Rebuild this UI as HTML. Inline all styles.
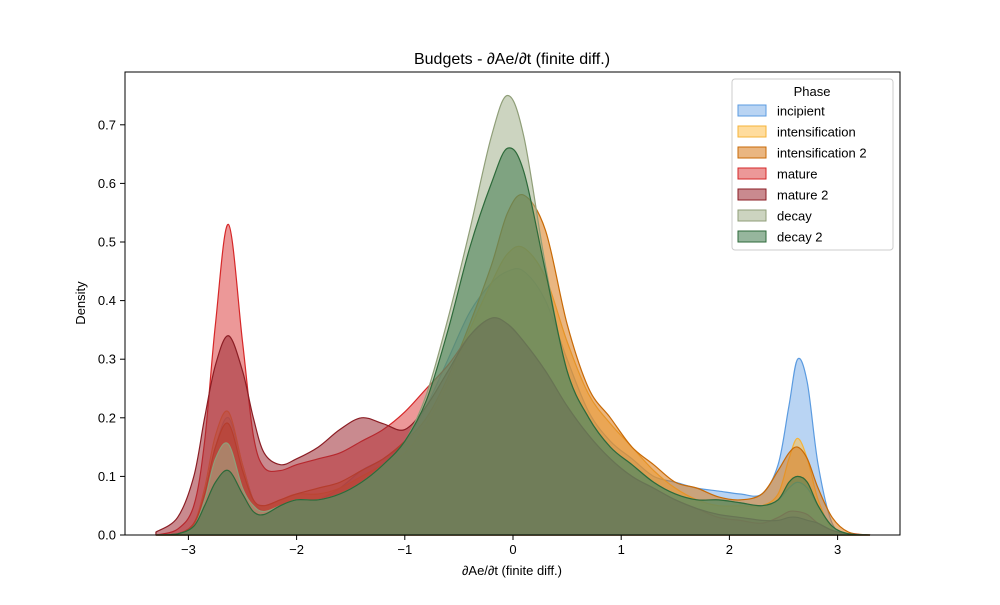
<!DOCTYPE html>
<html><head><meta charset="utf-8"><style>
body{margin:0;background:#fff;}
svg text{font-family:"Liberation Sans","DejaVu Sans",sans-serif;}
</style></head><body>
<svg id="chart" width="1000" height="600" viewBox="0 0 1000 600">
<rect width="1000" height="600" fill="#fff"/>
<text x="512" y="64" font-size="16" text-anchor="middle">Budgets - ∂Ae/∂t (finite diff.)</text>
<g id="series"></g>
<rect x="125" y="72" width="775" height="463" fill="none" stroke="#000" stroke-width="1"/>
<g id="xticks"></g>
<g id="yticks"></g>
<text x="512" y="575" font-size="13" text-anchor="middle">∂Ae/∂t (finite diff.)</text>
<text x="85" y="303" font-size="13" text-anchor="middle" transform="rotate(-90 85 303)">Density</text>
<g id="legend">
<rect x="732" y="79" width="161" height="171" rx="3" fill="#fff" fill-opacity="0.8" stroke="#ccc"/>
<text x="812" y="96" font-size="13" text-anchor="middle">Phase</text>
</g>
</svg>
<script>
const xs=[-3.3,-3.1,-2.95,-2.85,-2.75,-2.63,-2.5,-2.4,-2.3,-2.15,-2,-1.8,-1.6,-1.4,-1.2,-1,-0.8,-0.6,-0.4,-0.2,-0.05,0.1,0.3,0.5,0.7,0.9,1.1,1.3,1.5,1.7,1.9,2.1,2.3,2.45,2.55,2.63,2.72,2.82,2.95,3.1,3.3];
const seriesNames=["incipient","intensification","intensification 2","mature","mature 2","decay","decay 2"];
const incipient=[0,0.002,0.02,0.07,0.15,0.2,0.12,0.06,0.04,0.04,0.05,0.06,0.08,0.11,0.13,0.16,0.22,0.3,0.38,0.43,0.45,0.45,0.4,0.3,0.21,0.16,0.13,0.1,0.09,0.08,0.075,0.07,0.07,0.12,0.22,0.3,0.26,0.12,0.02,0.002,0];
const intensification=[0,0.002,0.02,0.08,0.17,0.21,0.12,0.06,0.05,0.06,0.07,0.07,0.08,0.1,0.12,0.14,0.19,0.26,0.35,0.43,0.48,0.49,0.44,0.33,0.24,0.19,0.15,0.11,0.08,0.06,0.05,0.05,0.05,0.07,0.13,0.165,0.13,0.06,0.01,0.001,0];
const intensification2=[0,0.002,0.02,0.07,0.15,0.19,0.11,0.06,0.05,0.06,0.07,0.08,0.09,0.11,0.13,0.16,0.2,0.27,0.36,0.46,0.55,0.58,0.52,0.36,0.25,0.2,0.15,0.12,0.09,0.08,0.065,0.06,0.07,0.11,0.14,0.15,0.13,0.08,0.03,0.005,0];
const mature=[0,0.01,0.05,0.16,0.36,0.53,0.33,0.17,0.115,0.11,0.12,0.13,0.14,0.16,0.18,0.21,0.25,0.29,0.34,0.37,0.36,0.33,0.28,0.22,0.17,0.13,0.1,0.08,0.06,0.045,0.03,0.025,0.02,0.03,0.04,0.04,0.035,0.02,0.008,0.002,0];
const mature2=[0.005,0.03,0.1,0.2,0.29,0.34,0.28,0.2,0.14,0.12,0.13,0.15,0.18,0.2,0.19,0.18,0.22,0.28,0.34,0.37,0.36,0.33,0.28,0.22,0.17,0.13,0.1,0.08,0.06,0.045,0.035,0.03,0.025,0.025,0.03,0.03,0.025,0.02,0.008,0.002,0];
const decay=[0,0.002,0.015,0.06,0.13,0.155,0.08,0.05,0.04,0.05,0.06,0.06,0.07,0.09,0.12,0.16,0.24,0.37,0.52,0.68,0.75,0.68,0.46,0.28,0.2,0.15,0.12,0.09,0.07,0.06,0.06,0.055,0.05,0.06,0.08,0.09,0.08,0.05,0.015,0.002,0];
const decay2=[0,0.002,0.015,0.05,0.09,0.11,0.07,0.04,0.035,0.05,0.06,0.06,0.07,0.09,0.12,0.16,0.23,0.35,0.49,0.6,0.66,0.62,0.45,0.28,0.2,0.15,0.12,0.09,0.07,0.06,0.06,0.055,0.05,0.06,0.09,0.1,0.09,0.05,0.015,0.002,0];
const xTicks=[-3,-2,-1,0,1,2,3];
const yTicks=[0,0.1,0.2,0.3,0.4,0.5,0.6,0.7];

const allSeries=[incipient,intensification,intensification2,mature,mature2,decay,decay2];
const fills=["#7fb0ea","#ffc04c","#d97a1a","#dd4444","#9c2a33","#a3b08c","#3f7a4c"];
const strokes=["#5b9be0","#f5b339","#c86a06","#d62728","#8b1d24","#8f9e78","#2d6a3a"];
const NS="http://www.w3.org/2000/svg";
const X=v=>513+108.2*v, Y=v=>535-586*v;
function pathFor(arr){
  const p=xs.map((x,i)=>[X(x),Y(arr[i])]);
  let d="M"+p[0][0]+","+535+"L"+p[0][0]+","+p[0][1];
  for(let i=0;i<p.length-1;i++){
    const p0=p[Math.max(0,i-1)],p1=p[i],p2=p[i+1],p3=p[Math.min(p.length-1,i+2)];
    const c1x=p1[0]+(p2[0]-p0[0])/6, c1y=Math.min(535,p1[1]+(p2[1]-p0[1])/6);
    const c2x=p2[0]-(p3[0]-p1[0])/6, c2y=Math.min(535,p2[1]-(p3[1]-p1[1])/6);
    d+="C"+c1x+","+c1y+" "+c2x+","+c2y+" "+p2[0]+","+p2[1];
  }
  return d+"L"+p[p.length-1][0]+",535Z";
}
const sg=document.getElementById("series");
allSeries.forEach((arr,k)=>{
  const el=document.createElementNS(NS,"path");
  el.setAttribute("d",pathFor(arr));
  el.setAttribute("fill",fills[k]);el.setAttribute("fill-opacity","0.55");
  el.setAttribute("stroke",strokes[k]);el.setAttribute("stroke-width","1.2");
  
  
  sg.appendChild(el);
});
const xg=document.getElementById("xticks");
xTicks.forEach(t=>{
  const x=X(t);
  const g=document.createElementNS(NS,"g");
  
  
  g.innerHTML=`<line x1="${x}" x2="${x}" y1="535" y2="540" stroke="#000"/><text x="${x}" y="554" font-size="13" text-anchor="middle">${t<0?"−"+(-t):t}</text>`;
  xg.appendChild(g);
});
const yg=document.getElementById("yticks");
yTicks.forEach(t=>{
  const y=Y(t);
  const g=document.createElementNS(NS,"g");
  
  
  g.innerHTML=`<line x1="120" x2="125" y1="${y}" y2="${y}" stroke="#000"/><text x="116" y="${y+4.5}" font-size="13" text-anchor="end">${t.toFixed(1)}</text>`;
  yg.appendChild(g);
});
const lg=document.getElementById("legend");
seriesNames.forEach((n,k)=>{
  const y=111+21*k;
  const g=document.createElementNS(NS,"g");
  
  
  g.innerHTML=`<rect x="738" y="${y-6}" width="28" height="11" fill="${fills[k]}" fill-opacity="0.55" stroke="${strokes[k]}"/><text x="777" y="${y+4.5}" font-size="13">${n}</text>`;
  lg.appendChild(g);
});
</script>
</body></html>
